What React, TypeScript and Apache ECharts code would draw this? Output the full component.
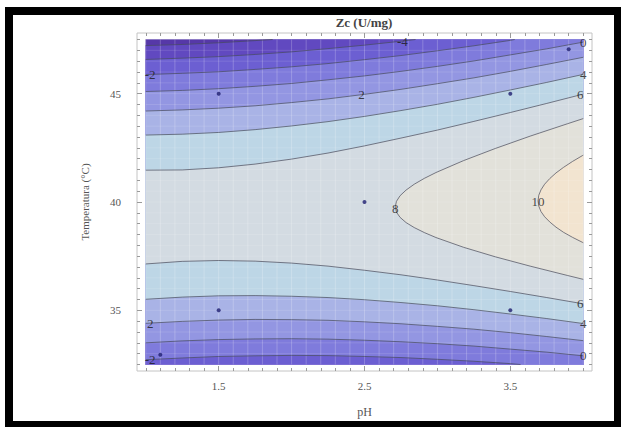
import React, { useEffect, useRef } from "react";
import * as echarts from "echarts";

// ---- axis ranges / ticks ----
const PH_MIN = 1;
const PH_MAX = 4;
const T_MIN = 32.5;
const T_MAX = 47.5;
const X_TICK_LABELS = [1.5, 2.5, 3.5];
const Y_TICK_LABELS = [35, 40, 45];

// ---- contour levels ----
const LEVELS = [-6, -4, -2, 0, 2, 4, 6, 8, 10];
const BAND_COLORS = [
  "#5638a8", // < -6
  "#6149c0", // -6..-4
  "#6c5fd2", // -4..-2
  "#7f7bdc", // -2..0
  "#9396e2", // 0..2
  "#a9b3e6", // 2..4
  "#bdd6e6", // 4..6
  "#d3dbe2", // 6..8
  "#e2e1da", // 8..10
  "#f2e4d0", // > 10
];

// pH sample positions of the contour readings
const PH_GRID = [1, 1.25, 1.5, 1.75, 2, 2.25, 2.5, 2.75, 3, 3.25, 3.5, 3.75, 4];

// Temperature of each contour line at PH_GRID (upper / lower branch)
const T_UP_0 = [45.10, 45.15, 45.23, 45.34, 45.47, 45.64, 45.82, 46.03, 46.26, 46.51, 46.79, 47.07, 47.38];
const T_UP_2 = [44.20, 44.25, 44.33, 44.44, 44.59, 44.76, 44.97, 45.20, 45.46, 45.73, 46.03, 46.35, 46.68];
const T_UP_4 = [43.09, 43.13, 43.21, 43.34, 43.51, 43.71, 43.95, 44.22, 44.51, 44.83, 45.17, 45.52, 45.89];
const T_UP_6 = [41.47, 41.48, 41.58, 41.75, 41.98, 42.26, 42.59, 42.95, 43.32, 43.72, 44.13, 44.55, 44.98];
const T_LO_6 = [37.14, 37.26, 37.30, 37.27, 37.18, 37.04, 36.85, 36.64, 36.40, 36.14, 35.87, 35.59, 35.30];
const T_LO_4 = [35.51, 35.61, 35.67, 35.68, 35.65, 35.59, 35.49, 35.36, 35.21, 35.03, 34.83, 34.62, 34.39];
const T_LO_2 = [34.40, 34.49, 34.55, 34.58, 34.57, 34.54, 34.47, 34.38, 34.26, 34.13, 33.97, 33.79, 33.60];
const T_LO_0 = [33.50, 33.59, 33.65, 33.68, 33.69, 33.67, 33.62, 33.55, 33.46, 33.35, 33.21, 33.07, 32.90];

// branches that leave the plotted region ([pH, T])
const UP_M6 = [[1, 47.22], [1.25, 47.27], [1.5, 47.35], [1.75, 47.45], [1.87, 47.5]];
const UP_M4 = [[1, 46.58], [1.25, 46.64], [1.5, 46.71], [1.75, 46.81], [2, 46.93], [2.25, 47.08], [2.5, 47.24], [2.75, 47.42], [2.85, 47.5]];
const UP_M2 = [[1, 45.88], [1.25, 45.94], [1.5, 46.01], [1.75, 46.12], [2, 46.24], [2.25, 46.39], [2.5, 46.57], [2.75, 46.76], [3, 46.98], [3.25, 47.21], [3.5, 47.46], [3.53, 47.5]];
const LO_M2 = [[1, 32.72], [1.25, 32.8], [1.5, 32.87], [1.75, 32.9], [2, 32.92], [2.25, 32.91], [2.5, 32.87], [2.75, 32.82], [3, 32.74], [3.25, 32.65], [3.5, 32.54], [3.57, 32.5]];

// closed (parabola-like) contours, from the vertex to the right edge
const P8_UP = [[2.711, 39.78], [2.719, 40.03], [2.744, 40.29], [2.785, 40.55], [2.841, 40.82], [2.91, 41.09], [2.99, 41.36], [3.179, 41.91], [3.397, 42.47], [3.636, 43.04], [3.891, 43.61], [4, 43.85]];
const P8_LO = [[2.711, 39.78], [2.719, 39.53], [2.744, 39.29], [2.785, 39.05], [2.841, 38.82], [2.91, 38.59], [2.99, 38.36], [3.179, 37.91], [3.397, 37.47], [3.636, 37.04], [3.891, 36.61], [4, 36.43]];
const P10_UP = [[3.69, 40.05], [3.695, 40.31], [3.71, 40.56], [3.735, 40.82], [3.77, 41.08], [3.813, 41.34], [3.865, 41.6], [3.926, 41.87], [3.994, 42.14], [4, 42.16]];
const P10_LO = [[3.69, 40.05], [3.695, 39.81], [3.71, 39.56], [3.735, 39.32], [3.77, 39.08], [3.813, 38.84], [3.865, 38.6], [3.926, 38.37], [3.994, 38.14], [4, 38.12]];

// experimental design points
const DESIGN_PH = [1.5, 3.5, 2.5, 1.5, 3.5, 1.1, 3.9];
const DESIGN_T = [45, 45, 40, 35, 35, 32.95, 47.05];

// contour labels [pH, T, text]
const CONTOUR_LABELS: [number, number, string][] = [
  [2.76, 47.42, "-4"],
  [1.03, 45.88, "-2"],
  [2.48, 44.98, "2"],
  [4.0, 47.38, "0"],
  [4.0, 45.89, "4"],
  [3.98, 44.98, "6"],
  [2.71, 39.72, "8"],
  [3.69, 40.02, "10"],
  [3.98, 35.3, "6"],
  [4.0, 34.39, "4"],
  [4.0, 32.9, "0"],
  [1.03, 34.4, "2"],
  [1.03, 32.72, "-2"],
];

const zip = (ts: number[]) => PH_GRID.map((p, i) => [p, ts[i]]);

type Contour = { level: number; upper: number[][]; lower: number[][] | null; closed?: boolean };
const CONTOURS: Contour[] = [
  { level: -6, upper: UP_M6, lower: null },
  { level: -4, upper: UP_M4, lower: null },
  { level: -2, upper: UP_M2, lower: LO_M2 },
  { level: 0, upper: zip(T_UP_0), lower: zip(T_LO_0) },
  { level: 2, upper: zip(T_UP_2), lower: zip(T_LO_2) },
  { level: 4, upper: zip(T_UP_4), lower: zip(T_LO_4) },
  { level: 6, upper: zip(T_UP_6), lower: zip(T_LO_6) },
  { level: 8, upper: P8_UP, lower: P8_LO, closed: true },
  { level: 10, upper: P10_UP, lower: P10_LO, closed: true },
];

function regionPolygon(c: Contour): number[][] {
  if (c.closed) return [...c.upper.slice().reverse(), ...(c.lower as number[][]).slice(1)];
  const pts = c.upper.slice();
  if (pts[pts.length - 1][0] < PH_MAX) pts.push([PH_MAX, T_MAX]);
  if (c.lower) {
    const lo = c.lower;
    if (lo[lo.length - 1][0] < PH_MAX) pts.push([PH_MAX, T_MIN]);
    pts.push(...lo.slice().reverse());
  } else {
    pts.push([PH_MAX, T_MIN], [PH_MIN, T_MIN]);
  }
  return pts;
}

const REGIONS = [
  { pts: [[PH_MIN, T_MIN], [PH_MAX, T_MIN], [PH_MAX, T_MAX], [PH_MIN, T_MAX]], color: BAND_COLORS[0] },
  ...CONTOURS.map((c) => ({ pts: regionPolygon(c), color: BAND_COLORS[LEVELS.indexOf(c.level) + 1] })),
];

const LINES: number[][][] = [];
CONTOURS.forEach((c) => {
  if (c.closed) LINES.push([...c.upper.slice().reverse(), ...(c.lower as number[][]).slice(1)]);
  else {
    LINES.push(c.upper);
    if (c.lower) LINES.push(c.lower);
  }
});

const SERIF = "'Liberation Serif', 'DejaVu Serif', serif";
const X_AX = [0.94, 4.06];
const Y_AX = [32.2, 47.8];

const minorX: number[] = [];
for (let i = 0; i <= 30; i++) minorX.push(+(1 + i * 0.1).toFixed(1));
const minorY: number[] = [];
for (let i = 0; i <= 30; i++) minorY.push(32.5 + i * 0.5);

function xAxisDef(position: "bottom" | "top", ticks: number[], len: number, labels: boolean): any {
  return {
    type: "value",
    min: X_AX[0],
    max: X_AX[1],
    position,
    axisLine: { show: false },
    splitLine: { show: false },
    axisTick: { show: true, inside: true, length: len, customValues: ticks, lineStyle: { color: "#9a9a9a", width: 1 } },
    axisLabel: labels
      ? { show: true, customValues: X_TICK_LABELS, formatter: (v: number) => v.toFixed(1), margin: 9, fontFamily: SERIF, fontSize: 11, color: "#555" }
      : { show: false },
    ...(labels && position === "bottom"
      ? { name: "pH", nameLocation: "middle", nameGap: 35, nameTextStyle: { fontFamily: SERIF, fontSize: 12, color: "#555" } }
      : {}),
  };
}

function yAxisDef(position: "left" | "right", ticks: number[], len: number, labels: boolean): any {
  return {
    type: "value",
    min: Y_AX[0],
    max: Y_AX[1],
    position,
    axisLine: { show: false },
    splitLine: { show: false },
    axisTick: { show: true, inside: true, length: len, customValues: ticks, lineStyle: { color: "#9a9a9a", width: 1 } },
    axisLabel: labels
      ? { show: true, customValues: Y_TICK_LABELS, formatter: (v: number) => String(v), margin: 16, fontFamily: SERIF, fontSize: 11, color: "#555" }
      : { show: false },
    ...(labels && position === "left"
      ? { name: "Temperatura (°C)", nameLocation: "middle", nameGap: 47, nameTextStyle: { fontFamily: SERIF, fontSize: 11, color: "#555" } }
      : {}),
  };
}

export default function App() {
  const ref = useRef<HTMLDivElement>(null);
  useEffect(() => {
    if (!ref.current) return;
    const chart = echarts.init(ref.current, null, { renderer: "svg" });
    const option: any = {
      animation: false,
      backgroundColor: "#ffffff",
      grid: { left: 137, right: 34, top: 33, bottom: 56, show: true, borderColor: "#c4c4c4", borderWidth: 1, backgroundColor: "transparent" },
      xAxis: [
        xAxisDef("bottom", X_TICK_LABELS, 5, true),
        xAxisDef("bottom", minorX, 3, false),
        xAxisDef("top", X_TICK_LABELS, 5, false),
        xAxisDef("top", minorX, 3, false),
      ],
      yAxis: [
        yAxisDef("left", Y_TICK_LABELS, 5, true),
        yAxisDef("left", minorY, 3, false),
        yAxisDef("right", Y_TICK_LABELS, 5, false),
        yAxisDef("right", minorY, 3, false),
      ],
      graphic: [
        { type: "text", x: 364, y: 22, z: 100, style: { text: "Zc (U/mg)", fontFamily: SERIF, fontSize: 13, fontWeight: "bold", fill: "#444", textAlign: "center", textVerticalAlign: "middle" } },
        { type: "rect", z: 100, shape: { x: 5, y: 7, width: 8, height: 420 }, style: { fill: "#000" } },
        { type: "rect", z: 100, shape: { x: 5, y: 7, width: 616, height: 8 }, style: { fill: "#000" } },
        { type: "rect", z: 100, shape: { x: 5, y: 421, width: 616, height: 6 }, style: { fill: "#000" } },
        { type: "rect", z: 100, shape: { x: 614, y: 7, width: 7, height: 420 }, style: { fill: "#000" } },
      ],
      series: [
        {
          type: "custom",
          coordinateSystem: "cartesian2d",
          xAxisIndex: 0,
          yAxisIndex: 0,
          silent: true,
          z: 1,
          data: REGIONS.map((_, i) => [2.5, 40, i]),
          renderItem: (params: any, api: any) => {
            const r = REGIONS[params.dataIndex];
            return {
              type: "polygon",
              z2: params.dataIndex,
              shape: { points: r.pts.map((p) => api.coord(p)) },
              style: { fill: r.color, stroke: r.color, lineWidth: 0.5 },
            };
          },
        },
        {
          // faint rendering mesh over the filled bands
          type: "custom",
          coordinateSystem: "cartesian2d",
          xAxisIndex: 0,
          yAxisIndex: 0,
          silent: true,
          z: 2,
          data: [[2.5, 40]],
          renderItem: (_params: any, api: any) => {
            const children: any[] = [];
            const stroke = "rgba(255,255,255,0.22)";
            minorX.forEach((x) => {
              const a = api.coord([x, T_MIN]);
              const b = api.coord([x, T_MAX]);
              children.push({ type: "line", shape: { x1: a[0], y1: a[1], x2: b[0], y2: b[1] }, style: { stroke, lineWidth: 1 } });
            });
            minorY.forEach((y) => {
              const a = api.coord([PH_MIN, y]);
              const b = api.coord([PH_MAX, y]);
              children.push({ type: "line", shape: { x1: a[0], y1: a[1], x2: b[0], y2: b[1] }, style: { stroke: "rgba(255,255,255,0.12)", lineWidth: 1 } });
            });
            return { type: "group", children };
          },
        },
        ...LINES.map((pts) => ({
          type: "line",
          xAxisIndex: 0,
          yAxisIndex: 0,
          data: pts,
          showSymbol: false,
          symbol: "none",
          silent: true,
          z: 3,
          lineStyle: { color: "rgba(70,72,90,0.7)", width: 1 },
        })),
        {
          type: "scatter",
          xAxisIndex: 0,
          yAxisIndex: 0,
          z: 4,
          silent: true,
          symbolSize: 4,
          itemStyle: { color: "#1e1e70" },
          data: DESIGN_PH.map((p, i) => [p, DESIGN_T[i]]),
        },
        {
          type: "scatter",
          xAxisIndex: 0,
          yAxisIndex: 0,
          z: 5,
          silent: true,
          symbolSize: 1,
          itemStyle: { color: "transparent" },
          data: CONTOUR_LABELS.map((l) => ({ value: [l[0], l[1]], name: l[2] })),
          label: {
            show: true,
            position: "inside",
            formatter: (p: any) => p.name,
            fontFamily: SERIF,
            fontSize: 13,
            color: "#1a1a1a",
          },
        },
      ],
    };
    chart.setOption(option);
    return () => chart.dispose();
  }, []);
  return (
    <div
      ref={ref}
      style={{ position: "absolute", left: 0, top: 0, width: 626, height: 427, background: "#fff" }}
    />
  );
}
